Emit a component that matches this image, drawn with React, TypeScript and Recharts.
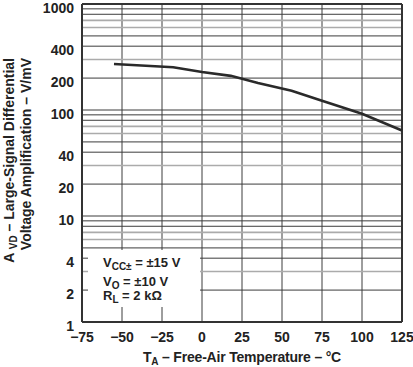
import { LineChart, Line, XAxis, YAxis, CartesianGrid, ReferenceLine } from 'recharts';

// A_VD vs free-air temperature
const temps = [-55, -18, 0, 18, 35, 56, 75, 100, 125];
const gain = [272, 253, 228, 210, 180, 152, 122, 92, 64];

const xTicks = [-75, -50, -25, 0, 25, 50, 75, 100, 125];
const yTicks = [1, 2, 4, 10, 20, 40, 100, 200, 400, 1000];
const darkGrid = [2, 4, 5, 8, 9, 10, 20, 40, 50, 80, 90, 100, 200, 400, 500, 800, 900];
const grayGrid = [3, 6, 7, 30, 60, 70, 300, 600, 700];

const data = temps.map((t, i) => ({ t, a: gain[i] }));

const FONT = '"Liberation Sans", Arial, sans-serif';
const INK = '#222';
const GRID = '#3c3c3c';

const fmtX = (v: number) => (v < 0 ? `\u2212${Math.abs(v)}` : String(v));

function YTick({ x, y, payload }: any) {
  return (
    <text x={x} y={y + 4} textAnchor="end" dominantBaseline="central" fill={INK} fontSize={14} fontWeight="bold" fontFamily={FONT}>
      {payload.value}
    </text>
  );
}

function XTick({ x, y, payload }: any) {
  return (
    <text x={x} y={y} dy="0.71em" textAnchor="middle" fill={INK} fontSize={14} fontWeight="bold" fontFamily={FONT}>
      {fmtX(payload.value)}
    </text>
  );
}

// conditions box, sits over the grid in the lower-left corner
function Conditions() {
  return (
    <svg width={112} height={57} style={{ position: 'absolute', left: 88, top: 250 }}>
      <rect x={0} y={0} width={112} height={57} fill="#fff" />
      <text x={15} y={17} fill={INK} fontSize={13} fontWeight="bold" fontFamily={FONT}>
        V<tspan fontSize={10} dy={3}>CC±</tspan>
        <tspan dy={-3}> = ±15 V</tspan>
      </text>
      <text x={15} y={36} fill={INK} fontSize={13} fontWeight="bold" fontFamily={FONT}>
        V<tspan fontSize={10} dy={3}>O</tspan>
        <tspan dy={-3}> = ±10 V</tspan>
      </text>
      <text x={15} y={50} fill={INK} fontSize={13} fontWeight="bold" fontFamily={FONT}>
        R<tspan fontSize={10} dy={3}>L</tspan>
        <tspan dy={-3}> = 2 kΩ</tspan>
      </text>
    </svg>
  );
}

export default function App() {
  return (
    <div style={{ position: 'absolute', left: 0, top: 0, width: 413, height: 367, background: '#fff', fontFamily: FONT }}>
      <LineChart width={413} height={367} data={data} margin={{ top: 4, right: 11, bottom: 0, left: 0 }}>
        <CartesianGrid horizontal={false} stroke={GRID} strokeWidth={1} />
        {grayGrid.map((v) => (
          <ReferenceLine key={'g' + v} y={v} stroke="#ababab" strokeWidth={1.6} />
        ))}
        {darkGrid.map((v) => (
          <ReferenceLine key={'d' + v} y={v} stroke={GRID} strokeWidth={1} />
        ))}
        <ReferenceLine y={1000} stroke="#333" strokeWidth={2} />
        <ReferenceLine x={125} stroke="#333" strokeWidth={2} />
        <XAxis
          type="number"
          dataKey="t"
          domain={[-75, 125]}
          ticks={xTicks}
          interval={0}
          height={45}
          tickLine={false}
          tickSize={6}
          tickMargin={4}
          axisLine={{ stroke: '#333', strokeWidth: 2 }}
          tick={<XTick />}
        />
        <YAxis
          scale="log"
          domain={[1, 1000]}
          ticks={yTicks}
          interval={0}
          width={82}
          allowDataOverflow
          tickLine={false}
          tickSize={4}
          tickMargin={4}
          axisLine={{ stroke: '#333', strokeWidth: 2 }}
          tick={<YTick />}
        />
        <Line type="linear" dataKey="a" stroke="#2a2a2a" strokeWidth={2.6} dot={false} isAnimationActive={false} />
        <text x={242} y={362} textAnchor="middle" fill={INK} fontSize={14} fontWeight="bold" fontFamily={FONT} letterSpacing={-0.2}>
          T<tspan fontSize={10} dy={3}>A</tspan>
          <tspan dy={-3}> – Free-Air Temperature – °C</tspan>
        </text>
        <text transform="rotate(-90)" x={-58} y={14} textAnchor="end" fill={INK} fontSize={14} fontWeight="bold" fontFamily={FONT}>
          A <tspan fontSize={10} dy={3}>VD</tspan>
          <tspan dy={-3}> – Large-Signal Differential</tspan>
        </text>
        <text transform="rotate(-90)" x={-58} y={31} textAnchor="end" fill={INK} fontSize={14} fontWeight="bold" fontFamily={FONT}>
          Voltage Amplification – V/mV
        </text>
      </LineChart>
      <Conditions />
    </div>
  );
}
